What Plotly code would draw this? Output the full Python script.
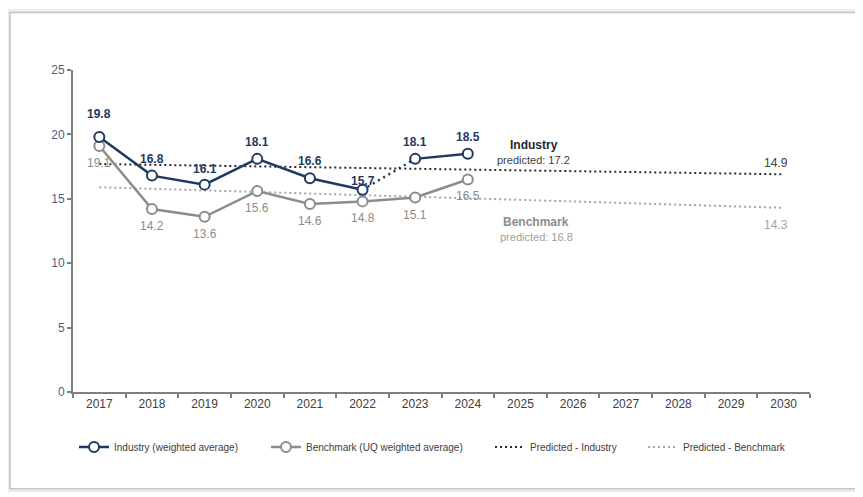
import plotly.graph_objects as go

years = [str(y) for y in range(2017, 2031)]
hist_years = [str(y) for y in range(2017, 2025)]
industry = [19.8, 16.8, 16.1, 18.1, 16.6, 15.7, 18.1, 18.5]
industry_labels = ["19.8", "16.8", "16.1", "18.1", "16.6", "15.7", "18.1", "18.5"]
benchmark = [19.1, 14.2, 13.6, 15.6, 14.6, 14.8, 15.1, 16.5]
benchmark_labels = ["19.1", "14.2", "13.6", "15.6", "14.6", "14.8", "15.1", "16.5"]
pred_years = ["2017", "2030"]
pred_industry = [17.7, 16.9]
pred_benchmark = [15.9, 14.3]

NAVY = "#1f3a60"
GRAY = "#8c8c8c"
PRED_IND = "#2b2b2b"
PRED_BEN = "#a6a6a6"
FONT = "Liberation Sans, Arial, sans-serif"

# page body has an 8px margin: target pixel coords are shifted by OFF
OFF = 8
W, H = 863, 497
L, R, T, B = 73 - OFF, 810 - OFF, 69.5 - OFF, 392 - OFF
def px(x):
    return (x - OFF - L) / (R - L)
def py(y):
    return (B - (y - OFF)) / (B - T)

fig = go.Figure()

# predicted lines
fig.add_trace(go.Scatter(x=pred_years, y=pred_industry, mode="lines",
                         line=dict(color=PRED_IND, width=2, dash="2px,3px"),
                         name="Predicted - Industry", legend="legend3"))
fig.add_trace(go.Scatter(x=pred_years, y=pred_benchmark, mode="lines",
                         line=dict(color=PRED_BEN, width=2, dash="2px,3px"),
                         name="Predicted - Benchmark", legend="legend4"))

# benchmark
fig.add_trace(go.Scatter(x=hist_years, y=benchmark, mode="lines+markers",
                         line=dict(color=GRAY, width=2.5),
                         marker=dict(symbol="circle", size=10, color="white",
                                     line=dict(color=GRAY, width=2)),
                         name="Benchmark (UQ weighted average)", legend="legend2"))

# industry: dotted connector 2022 -> 2023
fig.add_trace(go.Scatter(x=hist_years[5:7], y=industry[5:7], mode="lines",
                         line=dict(color=NAVY, width=2.5, dash="2px,4px"),
                         showlegend=False))
fig.add_trace(go.Scatter(x=hist_years[:6], y=industry[:6], mode="lines+markers",
                         line=dict(color=NAVY, width=2.5),
                         marker=dict(symbol="circle", size=10, color="white",
                                     line=dict(color=NAVY, width=2)),
                         name="Industry (weighted average)", legend="legend"))
fig.add_trace(go.Scatter(x=hist_years[6:], y=industry[6:], mode="lines+markers",
                         line=dict(color=NAVY, width=2.5),
                         marker=dict(symbol="circle", size=10, color="white",
                                     line=dict(color=NAVY, width=2)),
                         showlegend=False))

annotations = []
ind_shift = [23, 17, 16, 17, 17, 9, 17, 17]
for xv, yv, t, s in zip(hist_years, industry, industry_labels, ind_shift):
    annotations.append(dict(x=years.index(xv), y=yv, text=f"<b>{t}</b>", yshift=s,
                            font=dict(color=NAVY, size=12)))
for xv, yv, t in zip(hist_years, benchmark, benchmark_labels):
    annotations.append(dict(x=years.index(xv), y=yv, text=t, yshift=-17,
                            font=dict(color=GRAY, size=12)))

annotations += [
    dict(x=8.25, y=19.2, text="<b>Industry</b>", font=dict(color="#262626", size=12)),
    dict(x=8.25, y=18.0, text="predicted: 17.2", font=dict(color="#404040", size=11)),
    dict(x=8.3, y=13.2, text="<b>Benchmark</b>", font=dict(color="#8c8c8c", size=12)),
    dict(x=8.3, y=12.0, text="predicted: 16.8", font=dict(color="#a0a0a0", size=11)),
    dict(x=12.85, y=17.8, text="14.9", font=dict(color="#404040", size=12)),
    dict(x=12.85, y=13.0, text="14.3", font=dict(color="#a6a6a6", size=12)),
]
for a in annotations:
    a.update(xref="x", yref="y", showarrow=False)
    a["font"]["family"] = FONT

leg_common = dict(orientation="h", yanchor="middle", xanchor="left",
                  font=dict(family=FONT, size=10, color="#404040"),
                  bgcolor="rgba(0,0,0,0)", itemwidth=30, tracegroupgap=0)

def legpos(text_start):
    return px(text_start - 39)

fig.update_layout(
    width=W, height=H,
    margin=dict(l=L, r=W - R, t=T, b=H - B, pad=0),
    paper_bgcolor="white", plot_bgcolor="white",
    font=dict(family=FONT),
    showlegend=True,
    legend=dict(x=legpos(113), y=py(447), **leg_common),
    legend2=dict(x=legpos(305), y=py(447), **leg_common),
    legend3=dict(x=legpos(529), y=py(447), **leg_common),
    legend4=dict(x=legpos(682), y=py(447), **leg_common),
    annotations=annotations,
    shapes=[
        dict(type="rect", xref="paper", yref="paper",
             x0=px(8), x1=px(875), y0=py(491), y1=py(10),
             line=dict(color="#ececec", width=3), layer="below"),
        dict(type="rect", xref="paper", yref="paper",
             x0=px(10), x1=px(870), y0=py(489), y1=py(12),
             line=dict(color="#c4c4c4", width=1.5), layer="below"),
    ],
    xaxis=dict(type="category", categoryorder="array", categoryarray=years,
               tickvals=years, range=[-0.5, 13.5], tickson="boundaries",
               showline=True, linecolor="#7f7f7f", linewidth=2,
               ticks="outside", ticklen=4, tickcolor="#7f7f7f", tickwidth=1.5,
               showgrid=False, zeroline=False,
               tickfont=dict(family=FONT, size=12, color="#404040")),
    yaxis=dict(range=[0, 25], tickvals=[0, 5, 10, 15, 20, 25],
               showline=True, linecolor="#7f7f7f", linewidth=2,
               ticks="outside", ticklen=4, tickcolor="#7f7f7f", tickwidth=1.5,
               showgrid=False, zeroline=False,
               tickfont=dict(family=FONT, size=12, color="#4a5f86")),
)

fig.write_html("out.html")
